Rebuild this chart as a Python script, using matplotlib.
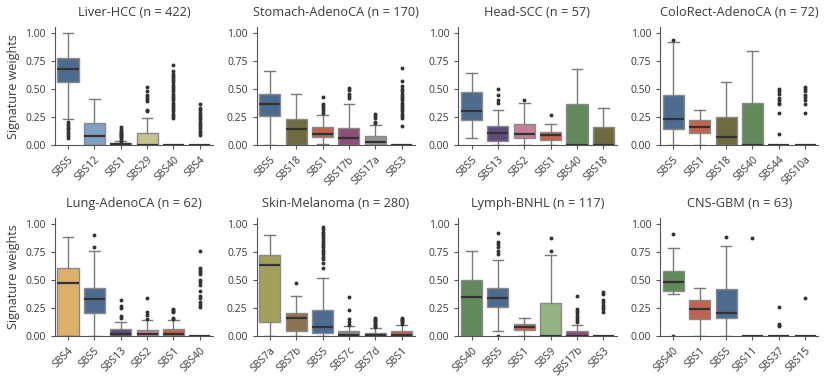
import matplotlib
matplotlib.use("Agg")
import matplotlib.pyplot as plt

plt.rcParams['font.family'] = ['Open Sans', 'DejaVu Sans']
plt.rcParams['text.color'] = '#3a3a3a'
plt.rcParams['axes.labelcolor'] = '#3a3a3a'
plt.rcParams['xtick.color'] = '#3a3a3a'
plt.rcParams['ytick.color'] = '#3a3a3a'

# colour per signature (same across panels)
sig_colors = {
    "SBS1": "#c0634f", "SBS2": "#c27f98", "SBS3": "#6b6b6b", "SBS4": "#dcb068",
    "SBS5": "#4d6b8f", "SBS7a": "#a1a15c", "SBS7b": "#8c7250", "SBS7c": "#8a8a8a",
    "SBS7d": "#555555", "SBS9": "#93b382", "SBS10a": "#777777", "SBS11": "#777777",
    "SBS12": "#80a0c2", "SBS13": "#5f4c7c", "SBS15": "#777777", "SBS17a": "#939393",
    "SBS17b": "#8b5079", "SBS18": "#6f6b40", "SBS29": "#c4c48e", "SBS37": "#777777",
    "SBS40": "#62895a", "SBS44": "#777777",
}

titles = ["Liver-HCC (n = 422)", "Stomach-AdenoCA (n = 170)", "Head-SCC (n = 57)",
          "ColoRect-AdenoCA (n = 72)", "Lung-AdenoCA (n = 62)", "Skin-Melanoma (n = 280)",
          "Lymph-BNHL (n = 117)", "CNS-GBM (n = 63)"]

# each box: [whislo, q1, med, q3, whishi]
liver_sigs = ["SBS5", "SBS12", "SBS1", "SBS29", "SBS40", "SBS4"]
liver_box = [[0.23, 0.56, 0.68, 0.78, 1.00], [0, 0, 0.08, 0.20, 0.41], [0, 0, 0.01, 0.02, 0.035],
             [0, 0, 0, 0.11, 0.24], [0, 0, 0, 0, 0], [0, 0, 0, 0, 0]]
liver_fliers = [
    [0.06, 0.08, 0.10, 0.12, 0.14, 0.15, 0.17, 0.19, 0.21],
    [],
    [0.04, 0.05, 0.06, 0.07, 0.08, 0.09, 0.10, 0.11, 0.12, 0.13, 0.14, 0.16],
    [0.30, 0.31, 0.39, 0.41, 0.43, 0.45, 0.48, 0.52],
    [0.24, 0.26, 0.28, 0.30, 0.32, 0.34, 0.36, 0.38, 0.40, 0.42, 0.44, 0.46, 0.48,
     0.50, 0.52, 0.54, 0.56, 0.58, 0.60, 0.62, 0.63, 0.66, 0.71],
    [0.09, 0.11, 0.13, 0.15, 0.17, 0.19, 0.21, 0.23, 0.25, 0.27, 0.29, 0.31, 0.33, 0.37],
]

stomach_sigs = ["SBS5", "SBS18", "SBS1", "SBS17b", "SBS17a", "SBS3"]
stomach_box = [[0, 0.26, 0.37, 0.46, 0.66], [0, 0, 0.14, 0.23, 0.46], [0.01, 0.07, 0.10, 0.16, 0.27],
               [0, 0, 0.06, 0.15, 0.37], [0, 0, 0.03, 0.08, 0.18], [0, 0, 0, 0, 0]]
stomach_fliers = [
    [], [],
    [0.29, 0.31, 0.33, 0.35, 0.37, 0.43],
    [0.42, 0.44, 0.46, 0.49, 0.51],
    [0.20, 0.21, 0.24, 0.26, 0.28],
    [0.17, 0.24, 0.26, 0.28, 0.30, 0.32, 0.34, 0.36, 0.38, 0.40, 0.42, 0.44, 0.46,
     0.48, 0.50, 0.53, 0.57, 0.69],
]

head_sigs = ["SBS5", "SBS13", "SBS2", "SBS1", "SBS40", "SBS18"]
head_box = [[0.06, 0.22, 0.30, 0.47, 0.64], [0, 0.04, 0.11, 0.17, 0.31], [0, 0.06, 0.10, 0.19, 0.38],
            [0, 0.05, 0.09, 0.12, 0.19], [0, 0, 0, 0.37, 0.68], [0, 0, 0, 0.16, 0.33]]
head_fliers = [[], [0.38, 0.40, 0.45, 0.50], [0.40], [0.27], [], []]

colo_sigs = ["SBS5", "SBS1", "SBS18", "SBS40", "SBS44", "SBS10a"]
colo_box = [[0, 0.14, 0.23, 0.45, 0.92], [0, 0.11, 0.16, 0.22, 0.31], [0, 0, 0.07, 0.25, 0.56],
            [0, 0, 0, 0.38, 0.84], [0, 0, 0, 0, 0], [0, 0, 0, 0, 0]]
colo_fliers = [[0.94], [], [], [],
               [0.10, 0.29, 0.37, 0.38, 0.40, 0.42, 0.46, 0.48, 0.50],
               [0.29, 0.37, 0.40, 0.43, 0.45, 0.48, 0.50, 0.52]]

lung_sigs = ["SBS4", "SBS5", "SBS13", "SBS2", "SBS1", "SBS40"]
lung_box = [[0, 0, 0.47, 0.61, 0.88], [0, 0.20, 0.33, 0.43, 0.76], [0, 0, 0.02, 0.06, 0.12],
            [0, 0, 0.02, 0.05, 0.14], [0, 0, 0.02, 0.06, 0.14], [0, 0, 0, 0, 0]]
lung_fliers = [[], [0.79, 0.90],
               [0.16, 0.18, 0.25, 0.27, 0.32],
               [0.15, 0.19, 0.21, 0.34],
               [0.15, 0.16, 0.21, 0.22, 0.23, 0.24],
               [0.26, 0.28, 0.30, 0.34, 0.36, 0.40, 0.45, 0.48, 0.50, 0.55, 0.57, 0.59, 0.61, 0.76]]

skin_sigs = ["SBS7a", "SBS7b", "SBS5", "SBS7c", "SBS7d", "SBS1"]
skin_box = [[0, 0.12, 0.63, 0.72, 0.90], [0, 0.04, 0.16, 0.20, 0.36], [0, 0.03, 0.08, 0.23, 0.52],
            [0, 0, 0.01, 0.04, 0.09], [0, 0, 0.01, 0.03, 0.07], [0, 0, 0.01, 0.04, 0.10]]
skin_fliers = [[], [0.47],
               [0.61, 0.65, 0.69, 0.70, 0.73, 0.75, 0.77, 0.79, 0.81, 0.83, 0.85, 0.87, 0.89,
                0.91, 0.93, 0.95, 0.97],
               [0.10, 0.12, 0.15, 0.23, 0.35],
               [0.08, 0.09, 0.10, 0.11, 0.12, 0.13, 0.14, 0.15, 0.16],
               [0.11, 0.12, 0.13, 0.14, 0.15, 0.16]]

lymph_sigs = ["SBS40", "SBS5", "SBS1", "SBS9", "SBS17b", "SBS3"]
lymph_box = [[0, 0, 0.35, 0.50, 0.76], [0.04, 0.26, 0.34, 0.43, 0.68], [0, 0.05, 0.08, 0.11, 0.16],
             [0, 0, 0, 0.29, 0.72], [0, 0, 0, 0.04, 0.10], [0, 0, 0, 0, 0]]
lymph_fliers = [[], [0.0, 0.73, 0.76, 0.79, 0.82, 0.84, 0.92], [], [0.76, 0.87],
                [0.12, 0.14, 0.16, 0.18, 0.20, 0.22, 0.24, 0.36],
                [0.21, 0.24, 0.26, 0.28, 0.30, 0.32, 0.37, 0.39]]

cns_sigs = ["SBS40", "SBS1", "SBS5", "SBS11", "SBS37", "SBS15"]
cns_box = [[0.37, 0.40, 0.48, 0.58, 0.78], [0, 0.15, 0.24, 0.32, 0.43], [0, 0.16, 0.20, 0.42, 0.80],
           [0, 0, 0, 0, 0], [0, 0, 0, 0, 0], [0, 0, 0, 0, 0]]
cns_fliers = [[0.0, 0.91], [], [0.88], [0.87], [0.09, 0.10, 0.11, 0.26], [0.34]]

panels = [
    (liver_sigs, liver_box, liver_fliers), (stomach_sigs, stomach_box, stomach_fliers),
    (head_sigs, head_box, head_fliers), (colo_sigs, colo_box, colo_fliers),
    (lung_sigs, lung_box, lung_fliers), (skin_sigs, skin_box, skin_fliers),
    (lymph_sigs, lymph_box, lymph_fliers), (cns_sigs, cns_box, cns_fliers),
]

fig, axes = plt.subplots(2, 4, figsize=(8.3, 3.8), dpi=100)
fig.subplots_adjust(left=0.066, right=0.986, top=0.928, bottom=0.116, wspace=0.275, hspace=0.62)

for i, (ax, (sigs, boxes, fliers)) in enumerate(zip(axes.flat, panels)):
    stats = []
    for name, b, fl in zip(sigs, boxes, fliers):
        stats.append({"label": name, "whislo": b[0], "q1": b[1], "med": b[2],
                      "q3": b[3], "whishi": b[4], "fliers": fl})
    art = ax.bxp(stats, positions=range(len(sigs)), widths=0.8, patch_artist=True,
                 boxprops=dict(edgecolor="#8a8a8a", linewidth=1.0),
                 whiskerprops=dict(color="#7a7a7a", linewidth=1.0),
                 capprops=dict(color="#7a7a7a", linewidth=1.0),
                 medianprops=dict(color="#333333", linewidth=1.6),
                 flierprops=dict(marker="o", markersize=1.8, markerfacecolor="#333333",
                                 markeredgecolor="#333333"))
    for patch, name in zip(art["boxes"], sigs):
        patch.set_facecolor(sig_colors[name])

    ax.set_xlim(-0.5, len(sigs) - 0.5)
    ax.set_ylim(0, 1.05)
    ax.set_yticks([0, 0.25, 0.5, 0.75, 1.0])
    ax.set_yticklabels(["0.00", "0.25", "0.50", "0.75", "1.00"])
    ax.set_xticks(range(len(sigs)))
    ax.set_xticklabels(sigs, rotation=45, ha="right", rotation_mode="anchor")
    ax.tick_params(labelsize=7.5, length=3, color="#555555")
    ax.set_title(titles[i], fontsize=9.2, pad=8)
    for side in ["top", "right"]:
        ax.spines[side].set_visible(False)
    for side in ["left", "bottom"]:
        ax.spines[side].set_color("#555555")
    if i % 4 == 0:
        ax.set_ylabel("Signature weights", fontsize=9)

fig.savefig("out.png", dpi=100)
